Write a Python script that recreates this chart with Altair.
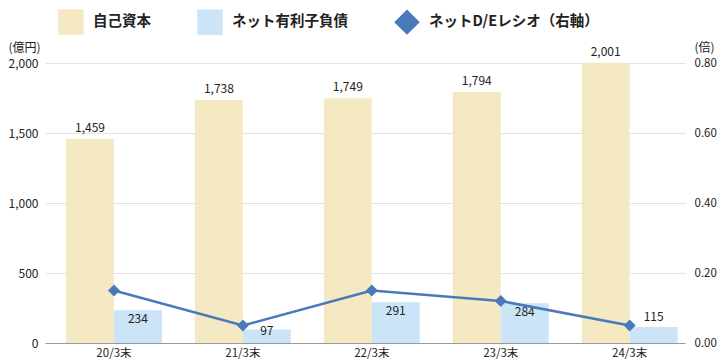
import altair as alt
import pandas as pd

# ---- data ----
categories = ["20/3末", "21/3末", "22/3末", "23/3末", "24/3末"]
equity = [1459, 1738, 1749, 1794, 2001]
net_debt = [234, 97, 291, 284, 115]
de_ratio = [0.15, 0.05, 0.15, 0.12, 0.05]

S_EQ = "自己資本"
S_DEBT = "ネット有利子負債"
S_DE = "ネットD/Eレシオ（右軸）"
series_names = [S_EQ, S_DEBT, S_DE]
series_colors = ["#F5E9C4", "#CCE4F8", "#4A79BA"]
series_shapes = ["square", "square", "diamond"]

left_ticks = [0, 500, 1000, 1500, 2000]
right_ticks = [0, 0.2, 0.4, 0.6, 0.8]

FONT = "Noto Sans CJK JP"
TXT = "#222222"

bars_df = pd.DataFrame({
    "cat": categories * 2,
    "series": [S_EQ] * len(categories) + [S_DEBT] * len(categories),
    "value": equity + net_debt,
})
de_df = pd.DataFrame({"cat": categories, "series": [S_DE] * len(categories), "ratio": de_ratio})

legend = alt.Legend(
    title=None, orient="none", legendX=13, legendY=-54, direction="horizontal",
    symbolSize=650, symbolStrokeWidth=0, symbolOpacity=1,
    labelFont=FONT, labelFontSize=14.5, labelFontWeight="bold", labelColor=TXT,
    labelLimit=0, labelOffset=9, columnPadding=46, padding=0,
)

x_enc = alt.X(
    "cat:N", sort=categories,
    scale=alt.Scale(paddingInner=0.256, paddingOuter=0.11, align=0.74),
    axis=alt.Axis(title=None, labelAngle=0, labelFont=FONT, labelFontSize=11.5,
                  labelColor=TXT, domainColor="#9A9A9A", ticks=False, labelPadding=4),
)
color_enc = alt.Color("series:N", scale=alt.Scale(domain=series_names, range=series_colors),
                      legend=legend)
xoff_enc = alt.XOffset("series:N", sort=[S_EQ, S_DEBT], scale=alt.Scale(domain=[S_EQ, S_DEBT]))

y_left = alt.Y(
    "value:Q", scale=alt.Scale(domain=[0, 2000], nice=False),
    axis=alt.Axis(values=left_ticks, format=",.0f", title="(億円)", titleAngle=0,
                  titleX=-37, titleY=-16, titleAlign="left", titleBaseline="middle",
                  titleFont=FONT, titleFontSize=12, titleFontWeight="normal", titleColor=TXT,
                  labelFont=FONT, labelFontSize=12, labelColor=TXT, labelPadding=7,
                  grid=True, gridColor="#E2E2E2", domain=False, ticks=False),
)

base = alt.Chart(bars_df)
bars = base.mark_bar().encode(x=x_enc, xOffset=xoff_enc, y=y_left, color=color_enc)

def label_layer(cond, dy):
    return base.transform_filter(cond).mark_text(
        font=FONT, fontSize=12, color=TXT, baseline="middle", dy=dy
    ).encode(x=alt.X("cat:N", sort=categories), xOffset=xoff_enc,
             y=alt.Y("value:Q"), text=alt.Text("value:Q", format=",.0f"))

lab_eq = label_layer(alt.datum.series == S_EQ, -11)
lab_d1 = label_layer((alt.datum.series == S_DEBT) & (alt.datum.value >= 200), 9)
lab_d2 = label_layer((alt.datum.series == S_DEBT) & (alt.datum.value < 200) & (alt.datum.value >= 100), -10)
lab_d3 = label_layer((alt.datum.series == S_DEBT) & (alt.datum.value < 100), 2)

left = alt.layer(bars, lab_eq, lab_d1, lab_d2, lab_d3)

y_right = alt.Y(
    "ratio:Q", scale=alt.Scale(domain=[0, 0.8], nice=False),
    axis=alt.Axis(orient="right", values=right_ticks, format=".2f", title="(倍)", titleAngle=0,
                  titleX=9, titleY=-16, titleAlign="left", titleBaseline="middle",
                  titleFont=FONT, titleFontSize=12, titleFontWeight="normal", titleColor=TXT,
                  labelFont=FONT, labelFontSize=11.5, labelColor=TXT, labelPadding=9,
                  grid=False, domain=False, ticks=False),
)

dbase = alt.Chart(de_df)
line = dbase.mark_line(color="#4A79BA", strokeWidth=2.5).encode(
    x=alt.X("cat:N", sort=categories), y=y_right)
points = dbase.mark_point(filled=True, size=144, opacity=1).encode(
    x=alt.X("cat:N", sort=categories), y=alt.Y("ratio:Q"),
    color=color_enc,
    shape=alt.Shape("series:N", scale=alt.Scale(domain=series_names, range=series_shapes),
                    legend=legend),
)
right = alt.layer(line, points)

chart = alt.layer(left, right).resolve_scale(y="independent").properties(
    width=640, height=280,
    autosize=alt.AutoSizeParams(type="none"),
    padding={"left": 37, "top": 55, "right": 32, "bottom": 16},
).configure_view(stroke=None)

chart.save("out.html", embed_options={"renderer": "svg", "actions": False})
